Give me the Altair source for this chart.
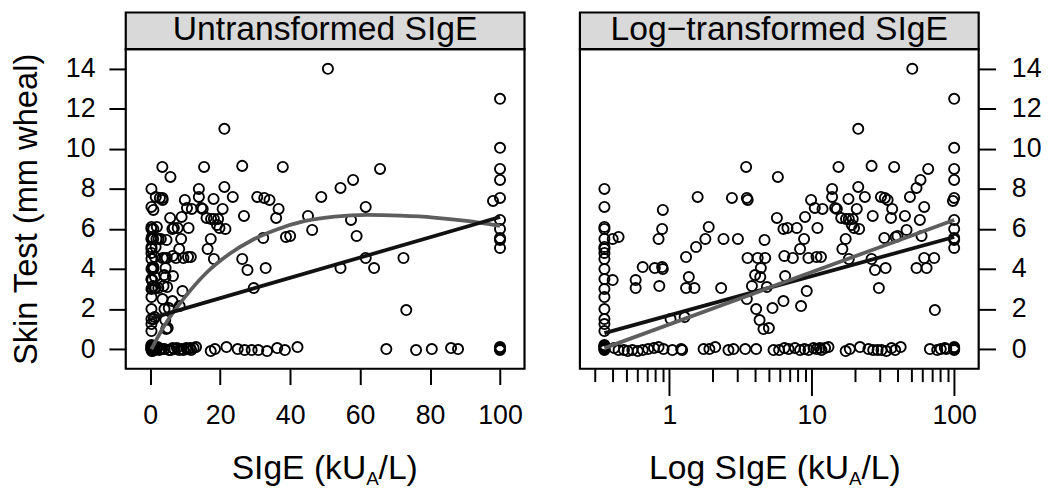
import altair as alt
import pandas as pd

FONT = "Liberation Sans"
W, H = 403, 323
STRIP = 37

panel_titles = ["Untransformed SIgE", "Log\u2212transformed SIgE"]

# ---- observations: SIgE (kUA/L) and skin test wheal (mm) ----
# values at the detection limit (0.35)
lod_sige = [0.35] * 23
lod_skin = [8.0, 7.1, 6.1, 6.0, 5.5, 5.1, 5.0, 4.8, 4.5, 4.0, 3.5, 3.0, 2.6, 2.0,
            1.5, 1.25, 0.9, 0.2, 0.1, 0.05, 0.0, -0.05, 0.15]

pos_sige = [0.40, 0.44, 0.40, 0.58, 0.58, 0.65, 0.79, 0.89, 0.90, 0.85,
            0.84, 0.89, 0.90, 1.02, 1.28, 1.31, 1.37, 1.31, 1.50, 1.54,
            1.58, 1.79, 1.89, 2.31, 2.40, 2.75, 3.03, 3.46, 3.50, 3.55,
            3.54, 3.50, 3.80, 4.00, 4.35, 4.17, 4.39, 4.07, 4.30, 4.58,
            5.00, 4.71, 4.66, 4.84, 5.30, 5.78, 5.69, 6.33, 6.75, 6.42,
            6.50, 6.33, 7.36, 7.85, 8.28, 8.41, 8.83, 8.97, 9.22, 9.48,
            9.89, 10.5, 10.96, 10.8, 11.6, 11.9, 13.9, 13.9, 14.6, 15.0,
            15.4, 16.1, 16.4, 17.3, 17.4, 18.2, 19.4, 18.1, 18.2, 19.1,
            19.8, 21.5, 20.7, 21.2, 21.2, 23.6, 26.3, 26.3, 26.8, 27.8,
            29.6, 30.6, 32.6, 34.1, 32.3, 33.0, 36.0, 36.7, 37.9, 38.8,
            40.0, 45.1, 46.3, 48.9, 50.8, 54.4, 58.0, 54.4, 57.4, 59.0,
            61.6, 61.6, 64.0, 65.7, 72.4, 73.2]
pos_skin = [5.5, 5.6, 3.45, 3.45, 3.05, 4.1, 4.05, 4.1, 4.0, 3.15,
            5.5, 6.0, 6.95, 1.5, 1.6, 4.6, 3.6, 3.05, 3.05, 5.1,
            7.6, 5.5, 6.1, 3.05, 5.5, 7.55, 5.5, 9.1, 7.55, 7.45,
            4.55, 2.5, 3.15, 3.7, 3.6, 4.55, 4.05, 2.0, 1.45, 1.0,
            1.05, 4.55, 5.45, 3.1, 2.05, 8.6, 6.55, 6.0, 6.05, 4.65,
            3.65, 2.4, 4.55, 6.05, 5.0, 2.15, 5.5, 6.6, 2.9, 4.55,
            7.45, 7.05, 6.05, 4.6, 4.6, 7.0, 8.0, 7.6, 7.05, 7.0,
            9.1, 6.55, 5.0, 5.5, 6.5, 6.5, 6.5, 7.5, 4.5, 6.2,
            6.05, 6.0, 7.0, 8.1, 11.0, 7.6, 9.15, 4.5, 6.65, 3.95,
            3.05, 7.6, 7.55, 7.45, 5.55, 4.05, 6.55, 7.0, 9.1, 5.6,
            5.65, 6.65, 5.95, 7.6, 14.0, 8.05, 8.45, 4.05, 6.45, 5.65,
            7.1, 4.55, 4.05, 9.0, 4.55, 1.95]

# values at the upper limit (100)
top_sige = [100, 100, 100, 100, 100, 98, 100, 100, 100, 100, 100]
top_skin = [12.5, 10.05, 9.0, 8.45, 7.55, 7.4, 6.45, 6.0, 5.55, 5.45, 5.05]

# negative skin tests (jittered around 0)
neg_sige = [0.41, 0.44, 0.48, 0.51, 0.55, 0.60, 0.65, 0.71, 0.78, 0.84,
            0.91, 1.05, 1.21, 1.23, 1.74, 1.91, 2.10, 2.60, 2.82, 3.41,
            4.07, 5.39, 5.90, 6.43, 6.87, 7.63, 8.28, 8.89, 9.49, 10.3,
            10.8, 11.4, 11.7, 12.4, 13.1, 17.3, 18.5, 21.8, 25.0, 27.0,
            29.0, 30.9, 33.4, 36.3, 38.5, 42.1, 67.5, 76.0, 80.5, 86.0,
            88.0, 100, 100, 100, 100]
neg_skin = [0.05, -0.05, -0.05, -0.1, -0.05, -0.1, -0.05, 0.0, 0.05, 0.1,
            0.0, -0.05, 0.0, -0.05, 0.0, 0.0, 0.1, -0.05, 0.0, 0.0,
            0.0, -0.05, -0.05, 0.05, 0.0, 0.05, -0.05, 0.0, -0.05, 0.05,
            0.0, 0.05, -0.05, 0.05, 0.1, -0.1, 0.0, 0.1, 0.0, -0.05,
            -0.05, -0.05, -0.1, 0.05, -0.05, 0.1, 0.0, -0.05, 0.0, 0.05,
            0.0, 0.05, -0.05, 0.0, 0.1]

# ---- fitted curves ----
left_line_x = [0.35, 100]
left_line_y = [1.55, 6.6]
left_curve_x = [0.35, 3.8, 10.4, 16.0, 22.6, 29.2, 35.8, 44.3, 52.7, 62.1, 71.5, 81.0, 90.4, 100]
left_curve_y = [0.0, 1.1, 2.7, 3.8, 4.75, 5.45, 5.95, 6.4, 6.62, 6.7, 6.66, 6.57, 6.4, 6.15]
right_line_x = [0.35, 100]
right_line_y = [0.8, 5.6]
right_curve_x = [0.35, 100]
right_curve_y = [0.05, 6.45]

y_ticks = [0, 2, 4, 6, 8, 10, 12, 14]
x_ticks_lin = [0, 20, 40, 60, 80, 100]
x_ticks_log = [0.3, 0.4, 0.5, 0.6, 0.7, 0.8, 0.9, 1, 2, 3, 4, 5, 6, 7, 8, 9,
               10, 20, 30, 40, 50, 60, 70, 80, 90, 100]

df = pd.DataFrame({
    "sige": lod_sige + pos_sige + top_sige + neg_sige,
    "skin": lod_skin + pos_skin + top_skin + neg_skin,
})

y_scale = alt.Scale(domain=[-0.98, 14.98], nice=False, zero=False)
x_lin = alt.Scale(domain=[-7, 107], nice=False, zero=False)
x_log = alt.Scale(type="log", domain=[0.2355, 148.6], nice=False)

BLACK = "#111111"
GREY = "#5e5e5e"
PT_SIZE = 105
PT_STROKE = 1.9
LINE_W = 3.8


def strip_and_frame(title):
    d = pd.DataFrame({"label": [title]})
    frame = alt.Chart(d).mark_rect(fill=None, fillOpacity=0, stroke="black", strokeWidth=2.2).encode(
        x=alt.value(0), x2=alt.value(W), y=alt.value(0), y2=alt.value(H))
    box = alt.Chart(d).mark_rect(fill="#d9d9d9", stroke="black", strokeWidth=2.2).encode(
        x=alt.value(0), x2=alt.value(W), y=alt.value(-STRIP), y2=alt.value(0))
    txt = alt.Chart(d).mark_text(font=FONT, fontSize=34, baseline="middle", color="black").encode(
        x=alt.value(W / 2), y=alt.value(-STRIP / 2 - 1), text="label:N")
    return frame + box + txt


def xtitle(prefix, x_sub):
    base_y = H + 111
    parts = []
    parts.append(alt.Chart(pd.DataFrame({"t": [prefix]})).mark_text(
        font=FONT, fontSize=34, align="right", baseline="alphabetic", color="black").encode(
        x=alt.value(x_sub), y=alt.value(base_y), text="t:N"))
    parts.append(alt.Chart(pd.DataFrame({"t": ["A"]})).mark_text(
        font=FONT, fontSize=19, align="left", baseline="alphabetic", color="black").encode(
        x=alt.value(x_sub), y=alt.value(base_y + 6), text="t:N"))
    parts.append(alt.Chart(pd.DataFrame({"t": ["/L)"]})).mark_text(
        font=FONT, fontSize=34, align="left", baseline="alphabetic", color="black").encode(
        x=alt.value(x_sub + 12.5), y=alt.value(base_y), text="t:N"))
    return alt.layer(*parts)


# ---------------- left panel ----------------
yax_left = alt.Axis(values=y_ticks, title="Skin Test (mm wheal)", titleFontSize=33,
                    titleFontWeight="normal", titlePadding=22, labelFontSize=27,
                    labelPadding=14, tickSize=17, tickWidth=2, tickColor="black",
                    domain=False, grid=False)
xax_left = alt.Axis(values=x_ticks_lin, title=None, labelFontSize=27, labelPadding=18,
                    tickSize=16, tickWidth=2, tickColor="black", domain=False, grid=False,
                    labelOverlap=False)

pts_left = alt.Chart(df).mark_point(shape="circle", filled=False, size=PT_SIZE,
                                    strokeWidth=PT_STROKE, color="black", opacity=1).encode(
    x=alt.X("sige:Q", scale=x_lin, axis=xax_left),
    y=alt.Y("skin:Q", scale=y_scale, axis=yax_left))

ll = alt.Chart(pd.DataFrame({"sige": left_line_x, "skin": left_line_y})).mark_line(
    color=BLACK, strokeWidth=LINE_W).encode(
    x=alt.X("sige:Q", scale=x_lin), y=alt.Y("skin:Q", scale=y_scale))
lc = alt.Chart(pd.DataFrame({"sige": left_curve_x, "skin": left_curve_y})).mark_line(
    color=GREY, strokeWidth=LINE_W, interpolate="monotone").encode(
    x=alt.X("sige:Q", scale=x_lin), y=alt.Y("skin:Q", scale=y_scale))

left = alt.layer(pts_left, lc, ll, strip_and_frame(panel_titles[0]),
                 xtitle("SIgE (kU", 243)).properties(width=W, height=H)

# ---------------- right panel ----------------
yax_right = alt.Axis(values=y_ticks, title=None, orient="right", labelFontSize=27,
                     labelPadding=16, tickSize=17, tickWidth=2, tickColor="black",
                     domain=False, grid=False)
major_test = "datum.value == 1 || datum.value == 10 || datum.value == 100"
xax_right = alt.Axis(values=x_ticks_log, title=None, labelFontSize=27,
                     labelExpr="(" + major_test + ") ? datum.label : ''",
                     labelPadding=7, labelOverlap=False, labelFlush=False,
                     tickSize={"condition": {"test": major_test, "value": 27}, "value": 13},
                     tickWidth=2, tickColor="black", domain=False, grid=False)

pts_right = alt.Chart(df).mark_point(shape="circle", filled=False, size=PT_SIZE,
                                     strokeWidth=PT_STROKE, color="black", opacity=1).encode(
    x=alt.X("sige:Q", scale=x_log, axis=xax_right),
    y=alt.Y("skin:Q", scale=y_scale, axis=yax_right))

rl = alt.Chart(pd.DataFrame({"sige": right_line_x, "skin": right_line_y})).mark_line(
    color=BLACK, strokeWidth=LINE_W).encode(
    x=alt.X("sige:Q", scale=x_log), y=alt.Y("skin:Q", scale=y_scale))
rc = alt.Chart(pd.DataFrame({"sige": right_curve_x, "skin": right_curve_y})).mark_line(
    color=GREY, strokeWidth=LINE_W).encode(
    x=alt.X("sige:Q", scale=x_log), y=alt.Y("skin:Q", scale=y_scale))

right = alt.layer(pts_right, rl, rc, strip_and_frame(panel_titles[1]),
                  xtitle("Log SIgE (kU", 272)).properties(width=W, height=H)

chart = alt.hconcat(left, right, spacing=52).properties(
    padding={"left": 2, "top": 0, "right": 0, "bottom": 0}
).configure_view(stroke=None).configure_axis(
    labelFont=FONT, titleFont=FONT, labelColor="black", titleColor="black"
).configure(background="white")

chart.save("out.html", embed_options={"renderer": "svg", "actions": False})
